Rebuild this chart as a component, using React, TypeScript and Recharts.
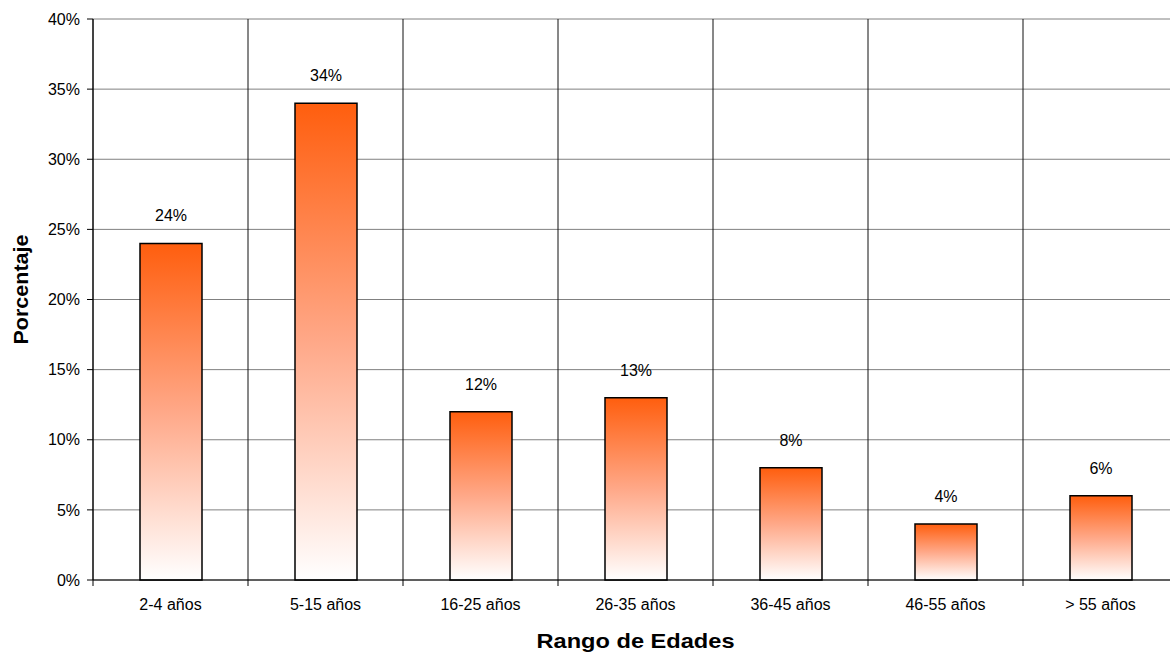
import { BarChart, Bar, XAxis, YAxis, CartesianGrid, LabelList } from 'recharts';

const rangos = ['2-4 años', '5-15 años', '16-25 años', '26-35 años', '36-45 años', '46-55 años', '> 55 años'];
const porcentajes = [24, 34, 12, 13, 8, 4, 6];
const yTicks = [0, 5, 10, 15, 20, 25, 30, 35, 40];

const data = rangos.map((rango, i) => ({ rango, valor: porcentajes[i] }));

const FONT = '"Liberation Sans", Arial, sans-serif';
const TICK_SIZE = 6;
const TICK_MARGIN = 13;

function CategoryTick(props: any) {
  const { x, y, payload } = props;
  const half = payload?.offset ?? 77.5;
  const axisY = y - TICK_SIZE - TICK_MARGIN;
  return (
    <g>
      <line x1={x - half} x2={x - half} y1={axisY} y2={axisY + TICK_SIZE} stroke="#000" />
      <text
        x={x}
        y={y}
        dy="0.71em"
        textAnchor="middle"
        fontSize={16}
        fontFamily={FONT}
        fill="#000"
      >
        {payload.value}
      </text>
    </g>
  );
}

export default function App() {
  return (
    <div
      style={{
        position: 'fixed',
        left: 0,
        top: 0,
        width: 1170,
        height: 657,
        overflow: 'hidden',
        background: '#fff',
      }}
    >
      <BarChart
        width={1190}
        height={657}
        data={data}
        margin={{ top: 19, right: 12, left: 0, bottom: 0 }}
        style={{ fontFamily: FONT }}
      >
        <defs>
          <linearGradient id="barFill" x1="0" y1="0" x2="0" y2="1">
            <stop offset="0%" stopColor="#ff5e0e" />
            <stop offset="50%" stopColor="#ffa888" />
            <stop offset="100%" stopColor="#ffffff" />
          </linearGradient>
        </defs>
        <CartesianGrid vertical={false} stroke="#808080" strokeWidth={1} />
        <CartesianGrid
          horizontal={false}
          stroke="#111"
          strokeWidth={1}
          verticalCoordinatesGenerator={({ offset }: any) =>
            rangos.map((_, i) => offset.left + (i * offset.width) / rangos.length).concat(offset.left + offset.width)
          }
        />
        <XAxis
          dataKey="rango"
          height={77}
          axisLine={{ stroke: '#000' }}
          tickLine={{ stroke: 'none' }}
          tickSize={TICK_SIZE}
          tickMargin={TICK_MARGIN}
          tick={<CategoryTick />}
          interval={0}
          label={{
            content: ({ viewBox }: any) => {
              const cx = viewBox.x + viewBox.width / 2;
              const cy = viewBox.y + viewBox.height - 9;
              return (
                <text
                  x={cx}
                  y={cy}
                  textAnchor="middle"
                  fontSize={21}
                  fontWeight="bold"
                  fontFamily={FONT}
                  fill="#000"
                  textLength={198}
                  lengthAdjust="spacingAndGlyphs"
                >
                  Rango de Edades
                </text>
              );
            },
          }}
        />
        <YAxis
          width={93}
          domain={[0, 40]}
          ticks={yTicks}
          interval={0}
          tickFormatter={(v: number) => `${v}%`}
          axisLine={{ stroke: '#000' }}
          tickLine={{ stroke: '#000' }}
          tickSize={6}
          tickMargin={7}
          tick={{ fontSize: 16, fill: '#000', fontFamily: FONT }}
          label={{
            content: ({ viewBox }: any) => {
              const cx = 20.5;
              const cy = viewBox.y + viewBox.height / 2 - 10;
              return (
                <text
                  x={cx}
                  y={cy}
                  transform={`rotate(-90 ${cx} ${cy})`}
                  textAnchor="middle"
                  dominantBaseline="central"
                  fontSize={20}
                  fontWeight="bold"
                  fontFamily={FONT}
                  fill="#000"
                  textLength={110}
                  lengthAdjust="spacingAndGlyphs"
                >
                  Porcentaje
                </text>
              );
            },
          }}
        />
        <Bar
          dataKey="valor"
          barSize={62}
          fill="url(#barFill)"
          stroke="#000"
          strokeWidth={1.5}
          isAnimationActive={false}
        >
          <LabelList
            dataKey="valor"
            position="top"
            offset={22}
            formatter={(v: number) => `${v}%`}
            style={{ fontSize: 16, fill: '#000', fontFamily: FONT }}
          />
        </Bar>
      </BarChart>
    </div>
  );
}
